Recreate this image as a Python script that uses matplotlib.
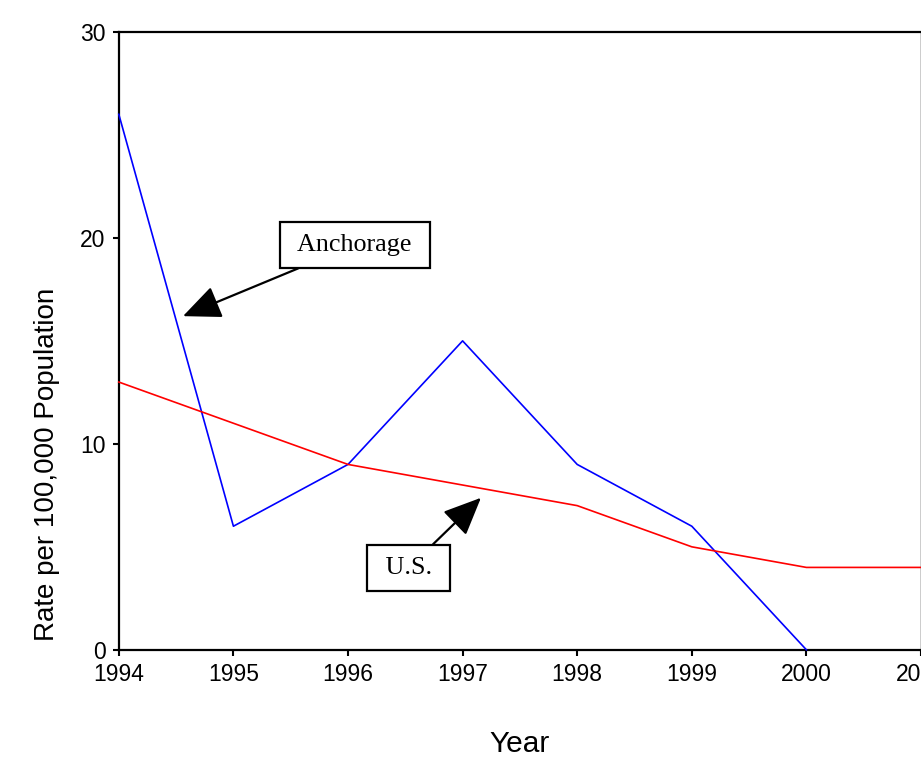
import matplotlib
matplotlib.use("Agg")
import matplotlib.pyplot as plt

# --- DATA ---
years = [1994, 1995, 1996, 1997, 1998, 1999, 2000, 2001]
anchorage_years = [1994, 1995, 1996, 1997, 1998, 1999, 2000]
anchorage_rate = [26, 6, 9, 15, 9, 6, 0]
us_rate = [13, 11, 9, 8, 7, 5, 4, 4]
y_ticks = [0, 10, 20, 30]

plt.rcParams['font.family'] = ['Liberation Sans', 'DejaVu Sans']

fig = plt.figure(figsize=(9.21, 7.6), dpi=100)
ax = fig.add_axes([0.129, 0.145, 0.871, 0.813])

ax.plot(anchorage_years, anchorage_rate, color='#0000FF', linewidth=1.2, clip_on=False, zorder=3)
ax.plot(years, us_rate, color='#FF0000', linewidth=1.2, clip_on=False, zorder=3)

ax.set_xlim(1994, 2001)
ax.set_ylim(0, 30)
ax.set_xticks(years)
ax.set_yticks(y_ticks)
ax.tick_params(direction='out', length=4.5, width=1.5, labelsize=16.5, pad=5)

for side in ['left', 'bottom', 'top']:
    ax.spines[side].set_linewidth(1.6)
ax.spines['right'].set_linewidth(1.0)

# label sits low on the axis in the original
ax.set_ylabel('Rate per 100,000 Population', fontsize=20)
ax.yaxis.set_label_coords(-0.073, 0.30)
ax.set_xlabel('Year', fontsize=21.5, labelpad=32)

box = dict(boxstyle='square,pad=0.45', facecolor='white', edgecolor='black', linewidth=1.6)
arrow = dict(arrowstyle='-|>,head_length=1.25,head_width=0.55', color='black', linewidth=1.6,
             shrinkA=0, shrinkB=0)

ax.annotate(' Anchorage ', xy=(1994.56, 16.2), xytext=(1996.06, 19.66),
            fontsize=18.8, family='Liberation Serif', ha='center', va='center',
            bbox=box, arrowprops=arrow)
ax.annotate(' U.S. ', xy=(1997.16, 7.38), xytext=(1996.53, 3.98),
            fontsize=18.8, family='Liberation Serif', ha='center', va='center',
            bbox=box, arrowprops=arrow)

fig.savefig('out.png', dpi=100)
